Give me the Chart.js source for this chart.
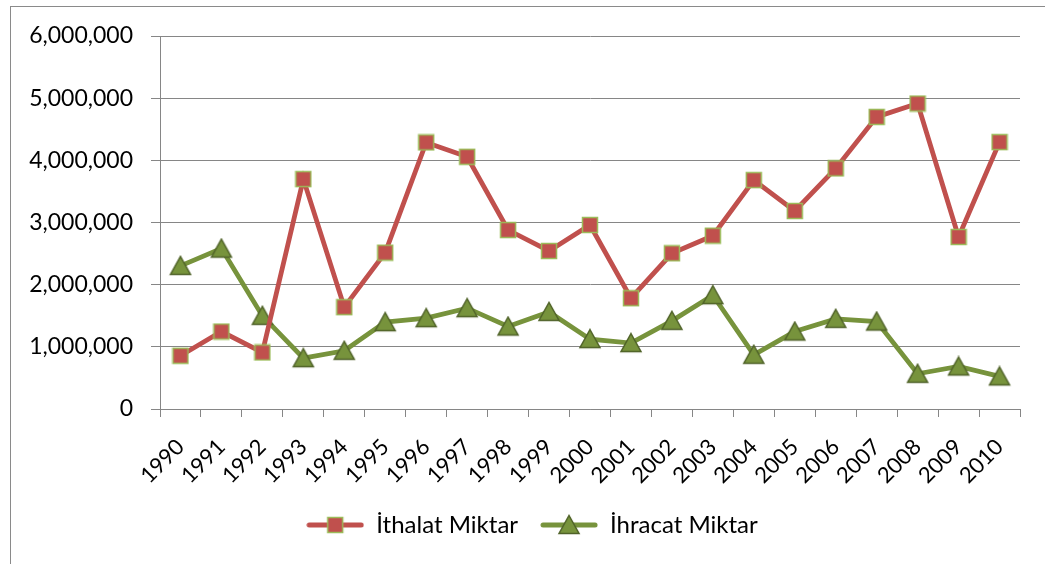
<!DOCTYPE html>
<html>
<head>
<meta charset="utf-8">
<script src="https://cdn.jsdelivr.net/npm/chart.js@4"></script>
<style>
  body { margin: 0; background: #fff; }
  #wrap { position: relative; width: 1045px; height: 564px; overflow: hidden; }
  #frame { position: absolute; left: 10px; top: 6px; width: 1100px; height: 600px; border: 1px solid #8a8a8a; }
  #chart { position: absolute; left: 0; top: 0; }
</style>
</head>
<body>
<div id="wrap">
  <div id="frame"></div>
  <canvas id="chart" width="1045" height="564"></canvas>
</div>
<script>
// Years on the x axis
const years = ['1990', '1991', '1992', '1993', '1994', '1995', '1996', '1997', '1998', '1999', '2000',
               '2001', '2002', '2003', '2004', '2005', '2006', '2007', '2008', '2009', '2010'];

// Import quantity (red squares)
const ithalat = [856000, 1246000, 909000, 3698000, 1638000, 2515000, 4288000, 4057000, 2879000, 2542000, 2960000,
                 1782000, 2505000, 2788000, 3682000, 3185000, 3870000, 4699000, 4914000, 2767000, 4293000];

// Export quantity (green triangles)
const ihracat = [2302000, 2580000, 1498000, 818000, 936000, 1397000, 1461000, 1622000, 1327000, 1562000, 1124000,
                 1060000, 1418000, 1831000, 872000, 1246000, 1450000, 1407000, 567000, 684000, 524000];

const yTicks = [0, 1000000, 2000000, 3000000, 4000000, 5000000, 6000000];

const RED = '#C0504D';
const GREEN = '#77933C';

// marker drawing helpers
function drawSquare(ctx, cx, cy) {
    ctx.fillStyle = RED;
    ctx.strokeStyle = '#9BBB59';
    ctx.lineWidth = 1.5;
    ctx.fillRect(cx - 7.5, cy - 7.5, 15, 15);
    ctx.strokeRect(cx - 7.5, cy - 7.5, 15, 15);
}

function drawTriangle(ctx, cx, cy) {
    ctx.beginPath();
    ctx.moveTo(cx, cy - 9.5);
    ctx.lineTo(cx + 10, cy + 8.5);
    ctx.lineTo(cx - 10, cy + 8.5);
    ctx.closePath();
    ctx.fillStyle = GREEN;
    ctx.fill();
    ctx.strokeStyle = '#4F6228';
    ctx.lineWidth = 1.5;
    ctx.stroke();
}

function makeMarker(w, h, drawFn) {
    const c = document.createElement('canvas');
    c.width = w;
    c.height = h;
    drawFn(c.getContext('2d'), w / 2, h / 2);
    return c;
}

function makeLegendIcon(color, drawFn) {
    const c = document.createElement('canvas');
    c.width = 58;
    c.height = 22;
    const ctx = c.getContext('2d');
    ctx.strokeStyle = color;
    ctx.lineWidth = 5;
    ctx.lineCap = 'round';
    ctx.beginPath();
    ctx.moveTo(3, 11);
    ctx.lineTo(55, 11);
    ctx.stroke();
    drawFn(ctx, 29, 11);
    return c;
}

const squareImg = makeMarker(18, 18, drawSquare);
const triangleImg = makeMarker(24, 22, drawTriangle);
const legendIcons = [makeLegendIcon(RED, drawSquare), makeLegendIcon(GREEN, drawTriangle)];

// the original legend sits a bit right of the canvas centre
const legendShift = {
    id: 'legendShift',
    afterLayout(chart) {
        chart.legend.left += 22;
        chart.legend.right += 22;
    }
};

Chart.defaults.font.family = 'Lato, "Open Sans", sans-serif';
Chart.defaults.color = '#000';

new Chart(document.getElementById('chart'), {
    type: 'line',
    data: {
        labels: years,
        datasets: [{
            label: 'İthalat Miktar',
            data: ithalat,
            borderColor: RED,
            backgroundColor: RED,
            borderWidth: 4.8,
            tension: 0,
            pointStyle: squareImg,
            pointRadius: 8,
            pointHoverRadius: 8
        }, {
            label: 'İhracat Miktar',
            data: ihracat,
            borderColor: GREEN,
            backgroundColor: GREEN,
            borderWidth: 4.8,
            tension: 0,
            pointStyle: triangleImg,
            pointRadius: 8,
            pointHoverRadius: 8
        }]
    },
    plugins: [legendShift],
    options: {
        responsive: false,
        animation: false,
        events: [],
        layout: {
            padding: { top: 36, right: 25, bottom: 17, left: 0 }
        },
        scales: {
            x: {
                offset: true,
                grid: {
                    offset: true,
                    drawOnChartArea: false,
                    color: '#868686',
                    tickLength: 8
                },
                border: { color: '#868686' },
                ticks: {
                    autoSkip: false,
                    minRotation: 45,
                    maxRotation: 45,
                    padding: 17,
                    font: { size: 22 }
                },
                afterFit: function(scale) { scale.height = 82; }
            },
            y: {
                min: 0,
                max: 6000000,
                afterBuildTicks: function(scale) {
                    scale.ticks = yTicks.map(v => ({ value: v }));
                },
                grid: {
                    color: '#868686',
                    tickLength: 9
                },
                border: { color: '#868686' },
                ticks: {
                    padding: 18,
                    font: { size: 23 },
                    callback: v => v.toLocaleString('en-US')
                },
                afterFit: function(scale) { scale.width = 160; }
            }
        },
        plugins: {
            tooltip: { enabled: false },
            legend: {
                position: 'bottom',
                labels: {
                    usePointStyle: true,
                    pointStyleWidth: 58,
                    padding: 22,
                    font: { size: 24 },
                    generateLabels: function(chart) {
                        const items = Chart.defaults.plugins.legend.labels.generateLabels(chart);
                        items.forEach((it, i) => { it.pointStyle = legendIcons[i]; });
                        return items;
                    }
                }
            }
        }
    }
});
</script>
</body>
</html>
